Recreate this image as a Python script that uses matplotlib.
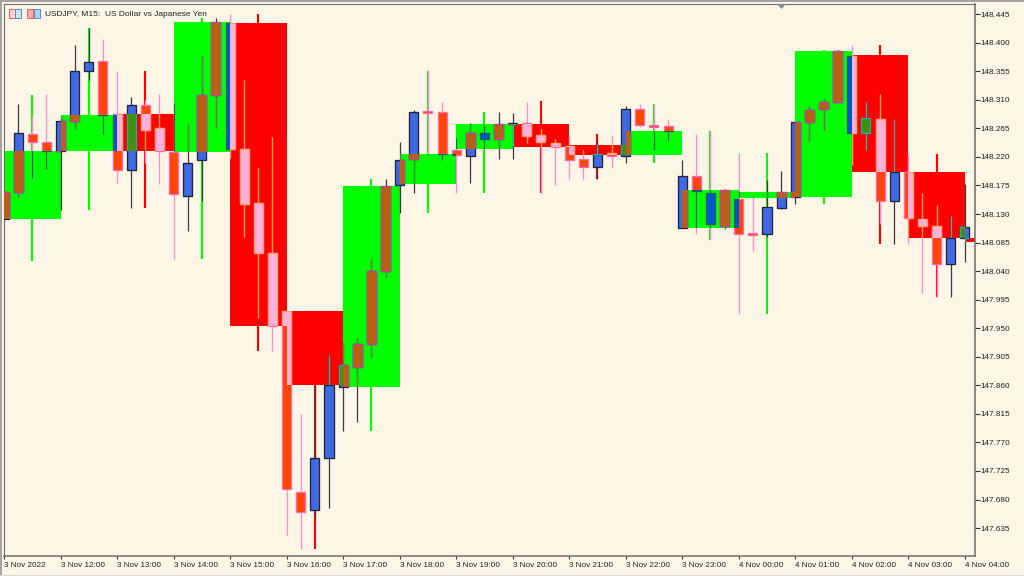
"""USDJPY M15 candles with H1 candles laid behind them (MT5 style chart)."""
import matplotlib
matplotlib.use("Agg")
import matplotlib.pyplot as plt
from matplotlib.patches import Rectangle, Polygon

W, H = 1024, 576
BG = "#FDF5E6"
plt.rcParams["font.family"] = ["Liberation Sans", "DejaVu Sans"]

# ---- M15 candles ----------------------------------------------------------
m15_open = [148.122, 148.165, 148.256, 148.243, 148.229, 148.276, 148.355, 148.371, 148.287, 148.199,
            148.302, 148.265, 148.228, 148.158, 148.215, 148.317, 148.431, 148.232, 148.147, 148.068,
            147.977, 147.692, 147.663, 147.745, 147.857, 147.889, 147.925, 148.040, 148.175, 148.216,
            148.292, 148.291, 148.231, 148.221, 148.257, 148.248, 148.272, 148.273, 148.254, 148.242,
            148.237, 148.216, 148.204, 148.226, 148.221, 148.295, 148.270, 148.269, 148.108, 148.190,
            148.163, 148.111, 148.153, 148.100, 148.098, 148.139, 148.157, 148.275, 148.295, 148.306,
            148.379, 148.257, 148.279, 148.150, 148.196, 148.122, 148.111, 148.051, 148.092]
m15_close = [148.165, 148.257, 148.243, 148.229, 148.276, 148.355, 148.369, 148.286, 148.199, 148.302,
             148.262, 148.229, 148.161, 148.210, 148.317, 148.432, 148.232, 148.145, 148.068, 147.953,
             147.696, 147.660, 147.745, 147.860, 147.892, 147.925, 148.040, 148.174, 148.215, 148.291,
             148.289, 148.224, 148.223, 148.257, 148.248, 148.272, 148.273, 148.253, 148.243, 148.236,
             148.215, 148.204, 148.224, 148.221, 148.295, 148.270, 148.267, 148.261, 148.190, 148.166,
             148.114, 148.168, 148.098, 148.097, 148.141, 148.165, 148.275, 148.294, 148.306, 148.387,
             148.257, 148.281, 148.150, 148.196, 148.123, 148.111, 148.052, 148.092, 148.109]
m15_high = [148.165, 148.303, 148.284, 148.319, 148.284, 148.396, 148.423, 148.406, 148.355, 148.314,
            148.309, 148.319, 148.305, 148.272, 148.379, 148.439, 148.445, 148.342, 148.202, 148.251,
            147.977, 147.815, 147.860, 147.908, 147.926, 147.934, 148.059, 148.185, 148.243, 148.294,
            148.357, 148.306, 148.250, 148.273, 148.270, 148.291, 148.289, 148.306, 148.264, 148.248,
            148.253, 148.231, 148.248, 148.254, 148.300, 148.303, 148.303, 148.279, 148.215, 148.256,
            148.261, 148.169, 148.226, 148.157, 148.183, 148.198, 148.275, 148.300, 148.311, 148.388,
            148.396, 148.306, 148.319, 148.279, 148.224, 148.163, 148.144, 148.127, 148.177]
m15_low = [148.122, 148.157, 148.186, 148.201, 148.136, 148.264, 148.341, 148.256, 148.179, 148.139,
           148.210, 148.177, 148.059, 148.103, 148.150, 148.265, 148.218, 148.093, 147.966, 147.914,
           147.624, 147.602, 147.652, 147.666, 147.788, 147.802, 147.904, 148.030, 148.131, 148.163,
           148.223, 148.215, 148.163, 148.179, 148.232, 148.216, 148.216, 148.242, 148.163, 148.175,
           148.185, 148.185, 148.185, 148.202, 148.210, 148.267, 148.231, 148.246, 148.108, 148.098,
           148.089, 148.106, 147.972, 148.071, 148.093, 148.138, 148.145, 148.245, 148.262, 148.306,
           148.207, 148.231, 148.114, 148.082, 148.082, 148.005, 147.999, 147.999, 148.054]

# ---- H1 candles behind them -----------------------------------------------
h1_open = [148.122, 148.229, 148.287, 148.228, 148.431, 147.977, 147.857, 148.177, 148.232, 148.272,
           148.239, 148.223, 148.108, 148.155, 148.157, 148.380, 148.196, 148.092]
h1_close = [148.229, 148.286, 148.229, 148.432, 147.953, 147.860, 148.174, 148.224, 148.272, 148.236,
            148.223, 148.261, 148.168, 148.165, 148.387, 148.196, 148.092, 148.086]
h1_high = [148.317, 148.423, 148.355, 148.439, 148.445, 147.977, 148.185, 148.355, 148.291, 148.308,
           148.256, 148.303, 148.261, 148.226, 148.388, 148.396, 148.224, 148.092]
h1_low = [148.056, 148.136, 148.139, 148.059, 147.914, 147.602, 147.788, 148.131, 148.163, 148.163,
          148.185, 148.210, 148.089, 147.972, 148.145, 148.082, 147.999, 148.086]

time_labels = ["3 Nov 2022", "3 Nov 12:00", "3 Nov 13:00", "3 Nov 14:00", "3 Nov 15:00", "3 Nov 16:00",
               "3 Nov 17:00", "3 Nov 18:00", "3 Nov 19:00", "3 Nov 20:00", "3 Nov 21:00", "3 Nov 22:00",
               "3 Nov 23:00", "4 Nov 00:00", "4 Nov 01:00", "4 Nov 02:00", "4 Nov 03:00", "4 Nov 04:00"]
price_ticks = [148.445, 148.400, 148.355, 148.310, 148.265, 148.220, 148.175, 148.130, 148.085, 148.040,
               147.995, 147.950, 147.905, 147.860, 147.815, 147.770, 147.725, 147.680, 147.635]
title = "USDJPY, M15:  US Dollar vs Japanese Yen"

# (fill, edge, wick); the XOR-ish look of the chart where candle meets box
STYLE = {("up", None): ("#4169E1", "#1C2540", "#3A3A3A"),
         ("down", None): ("#FF4500", "#FF69B4", "#FF8CC8"),
         ("up", "green"): ("#B8610F", "#C8409A", "#70785E"),
         ("down", "green"): ("#0055D0", "#0A6A50", "#0E7050"),
         ("up", "red"): ("#3F9010", "#20B0A0", "#20C0B0"),
         ("down", "red"): ("#FFB0E0", "#FFA868", "#FFA030")}
BODY_HALF = 0.32

fig = plt.figure(figsize=(W / 100, H / 100), dpi=100, facecolor=BG)
ax = fig.add_axes([4 / W, 1 - 556 / H, 971 / W, 552 / H], facecolor=BG)
ax.set_xlim(0, 68.72)
ax.set_ylim(147.591, 148.461)


def draw_candle(i, kind, box, clip=None):
    fill, edge, wick = STYLE[(kind, box)]
    line, = ax.plot([i, i], [m15_low[i], m15_high[i]], color=wick, lw=0.9, zorder=4,
                    solid_capstyle="butt")
    lo, hi = sorted((m15_open[i], m15_close[i]))
    body = Rectangle((i - BODY_HALF, lo), 2 * BODY_HALF, hi - lo, facecolor=fill, edgecolor=edge,
                     lw=0.95, zorder=5)
    ax.add_patch(body)
    if clip is not None:
        line.set_clip_path(clip)
        body.set_clip_path(clip)


# H1 wicks under the boxes, then boxes
boxes = []
for j in range(len(h1_open)):
    colour = "green" if h1_close[j] > h1_open[j] else "red"
    face = "#00FF00" if colour == "green" else "#FF0000"
    ax.plot([j * 4 + 2] * 2, [h1_low[j], h1_high[j]], color=face, lw=1.5, zorder=1,
            solid_capstyle="butt")
    lo, hi = sorted((h1_open[j], h1_close[j]))
    box = Rectangle((j * 4, lo), 4, hi - lo, facecolor=face, edgecolor="none", zorder=2)
    ax.add_patch(box)
    boxes.append((j, colour, box))

for i in range(len(m15_open)):
    kind = "up" if m15_close[i] >= m15_open[i] else "down"
    draw_candle(i, kind, None)
# same candle again in the other colours, clipped to whichever box it crosses
for j, colour, box in boxes:
    for i in range(max(j * 4 - 1, 0), min(j * 4 + 5, len(m15_open))):
        kind = "up" if m15_close[i] >= m15_open[i] else "down"
        draw_candle(i, kind, colour, clip=box)

# ---- axes -----------------------------------------------------------------
for side in ("left", "top"):
    ax.spines[side].set_color("#6E6E6E")
    ax.spines[side].set_linewidth(0.8)
for side in ("right", "bottom"):
    ax.spines[side].set_color("#6E6E6E")
    ax.spines[side].set_linewidth(1.1)
ax.yaxis.tick_right()
ax.set_yticks(price_ticks, [f"{p:.3f}" for p in price_ticks])
ax.set_xticks([j * 4 for j in range(len(time_labels))], time_labels)
ax.tick_params(axis="y", length=3.5, width=0.8, color="#333333", pad=0.5, labelsize=5.9, labelcolor="#222222")
ax.tick_params(axis="x", length=2.5, width=0.8, color="#333333", pad=2, labelsize=5.9, labelcolor="#222222")
for lab in ax.get_xticklabels():
    lab.set_ha("left")

ax.text(45 / W, 1 - 14 / H, title, transform=fig.transFigure, fontsize=6.0, color="#222222",
        va="center", ha="left", zorder=10)

# window chrome
px = fig.transFigure
fig.add_artist(Rectangle((0, 1 - 2 / H), 1, 2 / H, transform=px, facecolor="#A3A3A3", edgecolor="none"))
fig.add_artist(Rectangle((0, 0), 2 / W, 1, transform=px, facecolor="#A3A3A3", edgecolor="none"))
fig.add_artist(Rectangle((0, 0), 1, 1 / H, transform=px, facecolor="#D8D8D8", edgecolor="none"))
fig.add_artist(Polygon([(777 / W, 1 - 4 / H), (786 / W, 1 - 4 / H), (781.5 / W, 1 - 9 / H)], transform=px,
                       facecolor="#7C8CA0", edgecolor="none"))
# the two small toolbar icons
fig.add_artist(Rectangle((9 / W, 1 - 18 / H), 6 / W, 9 / H, transform=px, facecolor="#FBD0C8", edgecolor="#E86060", lw=0.7))
fig.add_artist(Rectangle((15 / W, 1 - 18 / H), 6 / W, 9 / H, transform=px, facecolor="#D0E4F8", edgecolor="#5090D0", lw=0.7))
fig.add_artist(Rectangle((27 / W, 1 - 18 / H), 6 / W, 9 / H, transform=px, facecolor="#F8B0A8", edgecolor="#E86060", lw=0.7))
fig.add_artist(Rectangle((34 / W, 1 - 18 / H), 6 / W, 9 / H, transform=px, facecolor="#B0D0F0", edgecolor="#5090D0", lw=0.7))

fig.savefig("out.png", dpi=100, facecolor=BG)
